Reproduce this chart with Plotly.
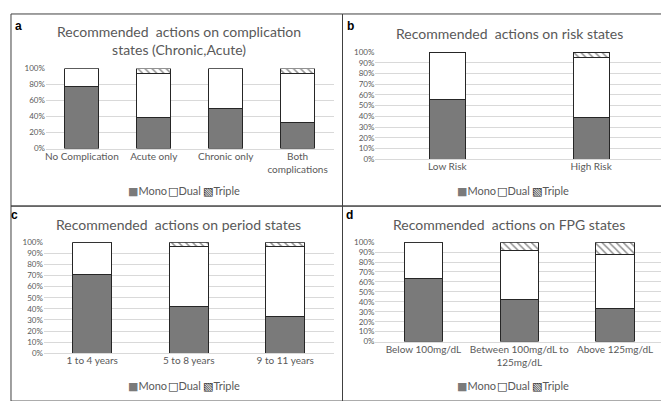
### Import packages into environment.
import plotly.graph_objs as go

# --------------------------------------------------------------------------- #
### Data for the four panels (share of patients, 0-1).

cats_a = ['No Complication', 'Acute only', 'Chronic only', 'Both<br>complications']
mono_a = [0.78, 0.39, 0.50, 0.33]
dual_a = [0.22, 0.55, 0.50, 0.61]
triple_a = [0.00, 0.06, 0.00, 0.06]

cats_b = ['Low Risk', 'High Risk']
mono_b = [0.56, 0.39]
dual_b = [0.44, 0.56]
triple_b = [0.00, 0.05]

cats_c = ['1 to 4 years', '5 to 8 years', '9 to 11 years']
mono_c = [0.71, 0.42, 0.33]
dual_c = [0.29, 0.54, 0.63]
triple_c = [0.00, 0.04, 0.04]

cats_d = ['Below 100mg/dL', 'Between 100mg/dL to<br>125mg/dL', 'Above 125mg/dL']
mono_d = [0.63, 0.42, 0.33]
dual_d = [0.37, 0.50, 0.55]
triple_d = [0.00, 0.08, 0.12]

series_names = ['Mono', 'Dual', 'Triple']
titles = ['Recommended  actions on complication<br>states (Chronic,Acute)',
          'Recommended  actions on risk states',
          'Recommended  actions on period states',
          'Recommended  actions on FPG states']
letters = ['a', 'b', 'c', 'd']

# --------------------------------------------------------------------------- #
### Layout helpers (pixel -> paper).
W, H = 669, 401
def px(x):
    return x / W
def py(y):
    return 1 - y / H

GREY_TXT = '#595959'
FONT = 'Lato'
MONO_C = '#7a7a7a'

panels = [
    # cats, mono, dual, triple, x0, x1, y_bottom, y_top, bar width, dtick
    (cats_a, mono_a, dual_a, triple_a, 37, 325, 139, 57, 0.47, 0.2),
    (cats_b, mono_b, dual_b, triple_b, 367, 655, 150, 40, 0.25, 0.1),
    (cats_c, mono_c, dual_c, triple_c, 35, 325, 349, 235, 0.40, 0.1),
    (cats_d, mono_d, dual_d, triple_d, 367, 655, 337, 235, 0.40, 0.1),
]
title_pos = [(170, 28), (501, 21), (170, 217), (501, 217)]
letter_pos = [(10, 13), (342, 13), (6, 207), (341, 207)]
legend_pos = [(172, 183), (502, 183), (172, 383), (502, 383)]
boxes = [(2, 1, 334, 198), (334, 1, 667, 198), (2, 198, 334, 398), (334, 198, 667, 398)]

# Compact Excel-style legend: one text item per series, left edge offset from centre.
sym_style = '<span style="font-family:DejaVu Sans;color:%s">%s</span>'
legend_syms = [sym_style % (MONO_C, '\u25a0'),
               sym_style % ('#262626', '\u25a1'),
               sym_style % ('#262626', '\u25a7')]
legend_offsets = [-55, -15, 20]

fig = go.Figure()
layout = dict(width=W, height=H, margin=dict(l=0, r=0, t=0, b=0),
              plot_bgcolor='white', paper_bgcolor='white', barmode='stack',
              showlegend=False,
              font=dict(family=FONT, color=GREY_TXT), annotations=[], shapes=[])

for i, (cats, mono, dual, triple, x0, x1, yb, yt, bw, dt) in enumerate(panels):
    n = '' if i == 0 else str(i + 1)
    xa, ya = 'x' + n, 'y' + n
    for name, vals, color, pat in [(series_names[0], mono, MONO_C, ''),
                                   (series_names[1], dual, 'white', ''),
                                   (series_names[2], triple, 'white', '\\')]:
        fig.add_trace(go.Bar(
            x=cats, y=vals, name=name, xaxis=xa, yaxis=ya,
            width=bw,
            marker=dict(color=color, line=dict(color='#262626', width=1),
                        pattern=dict(shape=pat, fgcolor='#262626', size=5, solidity=0.3)),
            hoverinfo='skip'))
    layout['xaxis' + n] = dict(domain=[px(x0), px(x1)], anchor=ya,
                               showline=True, linecolor='#d9d9d9', ticks='',
                               ticklabelstandoff=-2,
                               tickfont=dict(size=10, color=GREY_TXT), fixedrange=True)
    layout['yaxis' + n] = dict(domain=[py(yb), py(yt)], anchor=xa, range=[0, 1],
                               dtick=dt, tickformat='.0%', gridcolor='#d9d9d9',
                               zeroline=False, showline=False,
                               tickfont=dict(size=8, color=GREY_TXT), fixedrange=True)
    lx, ly = legend_pos[i]
    for sym, name, off in zip(legend_syms, series_names, legend_offsets):
        layout['annotations'].append(dict(text=sym + name, x=px(lx + off), y=py(ly),
                                          xref='paper', yref='paper', showarrow=False,
                                          xanchor='left', yanchor='middle',
                                          font=dict(size=11, color=GREY_TXT, family=FONT)))
    tx, ty = title_pos[i]
    layout['annotations'].append(dict(text=titles[i], x=px(tx), y=py(ty), xref='paper',
                                      yref='paper', showarrow=False, xanchor='center',
                                      yanchor='middle',
                                      font=dict(size=14, color=GREY_TXT)))
    lx2, ly2 = letter_pos[i]
    layout['annotations'].append(dict(text='<b>' + letters[i] + '</b>', x=px(lx2), y=py(ly2),
                                      xref='paper', yref='paper', showarrow=False,
                                      xanchor='center', yanchor='middle',
                                      font=dict(size=12, color='black', family='Liberation Sans')))
    bx0, by0, bx1, by1 = boxes[i]
    layout['shapes'].append(dict(type='rect', xref='paper', yref='paper',
                                 x0=px(bx0), x1=px(bx1), y0=py(by1), y1=py(by0),
                                 line=dict(color='#404040', width=1)))

fig.update_layout(**layout)

# Plot the data in html format.
fig.write_html('out.html')
